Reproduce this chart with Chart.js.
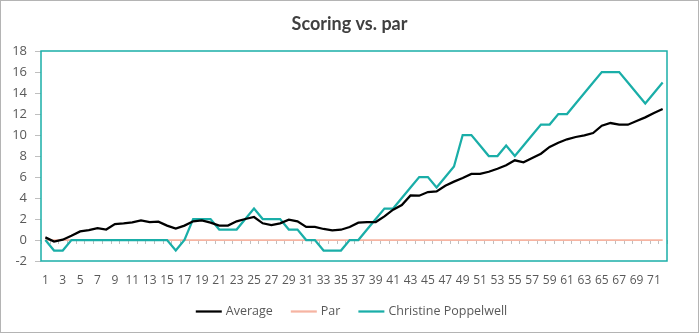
<!DOCTYPE html>
<html>
<head>
<meta charset="utf-8">
<script src="https://cdn.jsdelivr.net/npm/chart.js@4/dist/chart.umd.min.js"></script>
<style>
  html, body { margin: 0; padding: 0; background: #ffffff; }
  #wrap { position: relative; width: 699px; height: 333px; box-sizing: border-box; border: 1px solid #b4b4b4; }
  canvas { display: block; }
</style>
</head>
<body>
<div id="wrap"><canvas id="c" width="697" height="331"></canvas></div>
<script>
// Hole numbers 1..72
const holes = [
  '1','2','3','4','5','6','7','8','9','10','11','12','13','14','15','16','17','18',
  '19','20','21','22','23','24','25','26','27','28','29','30','31','32','33','34','35','36',
  '37','38','39','40','41','42','43','44','45','46','47','48','49','50','51','52','53','54',
  '55','56','57','58','59','60','61','62','63','64','65','66','67','68','69','70','71','72'
];

// Cumulative score relative to par
const average = [
  0.25, -0.15, 0.03, 0.4, 0.82, 0.95, 1.14, 1.0, 1.52, 1.59,
  1.68, 1.87, 1.71, 1.75, 1.37, 1.08, 1.37, 1.78, 1.87, 1.65,
  1.37, 1.37, 1.78, 2.0, 2.19, 1.59, 1.43, 1.59, 1.94, 1.78,
  1.24, 1.24, 1.05, 0.92, 0.98, 1.24, 1.65, 1.71, 1.71, 2.25,
  2.89, 3.33, 4.25, 4.22, 4.57, 4.63, 5.17, 5.56, 5.9, 6.29,
  6.29, 6.5, 6.79, 7.11, 7.59, 7.4, 7.81, 8.22, 8.86, 9.27,
  9.59, 9.81, 9.97, 10.19, 10.89, 11.14, 10.98, 10.98, 11.33, 11.68,
  12.1, 12.48
];

const par = [
  0, 0, 0, 0, 0, 0, 0, 0, 0, 0, 0, 0, 0, 0, 0, 0, 0, 0,
  0, 0, 0, 0, 0, 0, 0, 0, 0, 0, 0, 0, 0, 0, 0, 0, 0, 0,
  0, 0, 0, 0, 0, 0, 0, 0, 0, 0, 0, 0, 0, 0, 0, 0, 0, 0,
  0, 0, 0, 0, 0, 0, 0, 0, 0, 0, 0, 0, 0, 0, 0, 0, 0, 0
];

const christine = [
  0, -1, -1, 0, 0, 0, 0, 0, 0, 0,
  0, 0, 0, 0, 0, -1, 0, 2, 2, 2,
  1, 1, 1, 2, 3, 2, 2, 2, 1, 1,
  0, 0, -1, -1, -1, 0, 0, 1, 2, 3,
  3, 4, 5, 6, 6, 5, 6, 7, 10, 10,
  9, 8, 8, 9, 8, 9, 10, 11, 11, 12,
  12, 13, 14, 15, 16, 16, 16, 15, 14, 13,
  14, 15
];

const yTicks = [-2, 0, 2, 4, 6, 8, 10, 12, 14, 16, 18];

const TITLE = 'Scoring vs. par';
const TEAL = '#1aaea8';
const SALMON = '#f6b4a2';
const GREY_TEXT = '#595959';
const FONT = "'Open Sans', 'Noto Sans', sans-serif";

// Plot-area frame and the small category ticks sitting on the zero line
const frameAndTicks = {
  id: 'frameAndTicks',
  beforeDatasetsDraw(chart) {
    const { ctx, chartArea: a, scales: { x, y } } = chart;
    const y0 = y.getPixelForValue(0);
    ctx.save();
    ctx.strokeStyle = '#bfbfbf';
    ctx.lineWidth = 1;
    ctx.beginPath();
    const n = holes.length;
    for (let i = 0; i <= n; i++) {
      let px;
      if (i === 0) px = a.left;
      else if (i === n) px = a.right;
      else px = (x.getPixelForValue(i - 1) + x.getPixelForValue(i)) / 2;
      px = Math.round(px) + 0.5;
      ctx.moveTo(px, y0);
      ctx.lineTo(px, y0 + 4);
    }
    ctx.stroke();
    ctx.restore();
  },
  afterDraw(chart) {
    const { ctx, chartArea: a, width } = chart;
    ctx.save();
    // frame
    ctx.strokeStyle = TEAL;
    ctx.lineWidth = 1.5;
    ctx.strokeRect(a.left, a.top, a.right - a.left, a.bottom - a.top);

    // title
    ctx.fillStyle = '#404040';
    ctx.font = "bold 18px Lato, 'Open Sans', sans-serif";
    ctx.textAlign = 'center';
    ctx.textBaseline = 'alphabetic';
    ctx.fillText(TITLE, 348.5, 29);

    // legend: short line sample followed by the series name
    ctx.font = "12.5px " + FONT;
    ctx.textAlign = 'left';
    ctx.textBaseline = 'middle';
    const sample = 26, gap = 4, itemGap = 18, ly = 310.5;
    const items = chart.data.datasets.map(ds => ({
      text: ds.label, color: ds.borderColor, w: ctx.measureText(ds.label).width
    }));
    const total = items.reduce((s, it) => s + sample + gap + it.w, 0) + itemGap * (items.length - 1);
    let lx = 350.5 - total / 2;
    items.forEach(it => {
      ctx.strokeStyle = it.color;
      ctx.lineWidth = 2.25;
      ctx.beginPath();
      ctx.moveTo(lx, ly);
      ctx.lineTo(lx + sample, ly);
      ctx.stroke();
      ctx.fillStyle = GREY_TEXT;
      ctx.fillText(it.text, lx + sample + gap, ly);
      lx += sample + gap + it.w + itemGap;
    });
    ctx.restore();
  }
};

new Chart(document.getElementById('c'), {
  type: 'line',
  data: {
    labels: holes,
    datasets: [
      { label: 'Average', data: average, borderColor: '#000000', backgroundColor: '#000000',
        borderWidth: 2.25, pointRadius: 0, tension: 0, order: 1 },
      { label: 'Par', data: par, borderColor: SALMON, backgroundColor: SALMON,
        borderWidth: 1.75, pointRadius: 0, tension: 0, order: 3 },
      { label: 'Christine Poppelwell', data: christine, borderColor: TEAL, backgroundColor: TEAL,
        borderWidth: 2.25, pointRadius: 0, tension: 0, order: 2 }
    ]
  },
  options: {
    responsive: false,
    animation: false,
    layout: { padding: { left: 0, right: 31, top: 50, bottom: 37 } },
    plugins: {
      tooltip: { enabled: false },
      title: { display: false },
      legend: { display: false }
    },
    scales: {
      x: {
        offset: true,
        grid: { display: false, drawTicks: false },
        border: { display: false },
        ticks: {
          autoSkip: false,
          maxRotation: 0,
          minRotation: 0,
          padding: 12,
          color: GREY_TEXT,
          font: { family: FONT, size: 12 },
          callback(value, index) { return index % 2 === 0 ? holes[index] : ''; }
        },
        afterFit(scale) { scale.height = 34; }
      },
      y: {
        min: -2,
        max: 18,
        afterBuildTicks(scale) { scale.ticks = yTicks.map(v => ({ value: v })); },
        grid: { drawOnChartArea: false, drawTicks: true, tickLength: 6, color: '#bfbfbf' },
        border: { display: false },
        ticks: {
          padding: 8,
          color: GREY_TEXT,
          font: { family: FONT, size: 13 }
        },
        afterFit(scale) { scale.width = 40; }
      }
    }
  },
  plugins: [frameAndTicks]
});
</script>
</body>
</html>
